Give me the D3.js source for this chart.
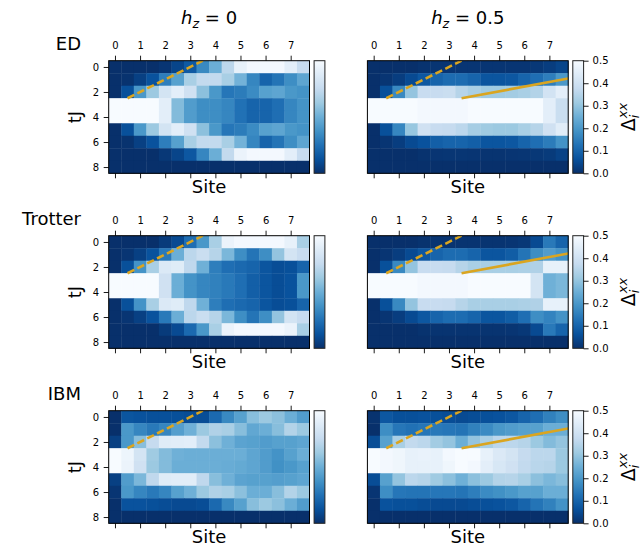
<!DOCTYPE html>
<html>
<head>
<meta charset="utf-8">
<script src="https://cdn.jsdelivr.net/npm/d3@7"></script>
<style>
  html, body { margin: 0; padding: 0; background: #fff; }
  svg { display: block; font-family: "DejaVu Sans", sans-serif; }
</style>
</head>
<body>
<svg id="chart" width="644" height="547"></svg>
<script>
// ---------- data ----------
const siteTicks = [0, 1, 2, 3, 4, 5, 6, 7];
const tjTicks = [0, 2, 4, 6, 8];
const cbarTicks = [0.0, 0.1, 0.2, 0.3, 0.4, 0.5];
const rowLabels = ["ED", "Trotter", "IBM"];
const colTitles = ["0", "0.5"];
const bluesColors = ["#08306b", "#08519c", "#2171b5", "#4292c6", "#6baed6", "#9ecae1", "#c6dbef", "#deebf7", "#f7fbff"];
const dashedLine = [[0.5, 2.5], [3.5, -0.5]];
const solidLine = [[3.5, 2.5], [7.75, 0.93]];
const zeroRow = [0,0,0,0,0,0,0,0,0,0,0,0,0,0,0,0];

const edH0 = [
  [0,0,0,0,0.01,0.04,0.08,0.17,0.25,0.36,0.46,0.49,0.49,0.49,0.45,0.38],
  [0,0.005,0.03,0.065,0.15,0.22,0.33,0.37,0.37,0.33,0.26,0.165,0.1,0.13,0.18,0.23],
  [0,0.06,0.2,0.31,0.41,0.45,0.40,0.29,0.2,0.135,0.145,0.175,0.22,0.23,0.2,0.19],
  [0.5,0.5,0.5,0.5,0.45,0.28,0.21,0.18,0.18,0.165,0.125,0.1,0.1,0.12,0.165,0.19],
  [0.5,0.5,0.5,0.5,0.45,0.28,0.21,0.18,0.18,0.165,0.125,0.1,0.1,0.12,0.165,0.19],
  [0,0.06,0.2,0.31,0.41,0.45,0.40,0.29,0.2,0.135,0.145,0.175,0.22,0.23,0.2,0.19],
  [0,0.005,0.03,0.065,0.15,0.22,0.33,0.37,0.37,0.33,0.26,0.165,0.1,0.13,0.18,0.23],
  [0,0,0,0,0.015,0.04,0.075,0.165,0.25,0.37,0.47,0.49,0.49,0.49,0.45,0.38],
  zeroRow
];
const edH05 = [
  [0,0,0,0,0.005,0.01,0.01,0.01,0.01,0.01,0.01,0.01,0.01,0.015,0.025,0.04],
  [0,0.01,0.025,0.05,0.075,0.1,0.115,0.115,0.1,0.07,0.07,0.075,0.1,0.12,0.15,0.2],
  [0,0.06,0.17,0.30,0.38,0.38,0.385,0.35,0.33,0.315,0.315,0.32,0.33,0.345,0.405,0.45],
  [0.5,0.5,0.5,0.5,0.49,0.49,0.49,0.49,0.5,0.5,0.5,0.5,0.5,0.5,0.45,0.385],
  [0.5,0.5,0.5,0.5,0.49,0.49,0.49,0.49,0.5,0.5,0.5,0.5,0.5,0.5,0.45,0.385],
  [0,0.06,0.165,0.305,0.40,0.38,0.375,0.36,0.325,0.315,0.31,0.31,0.33,0.35,0.40,0.445],
  [0,0.01,0.025,0.05,0.065,0.09,0.1,0.1,0.09,0.07,0.07,0.075,0.1,0.12,0.145,0.19],
  [0,0,0,0,0.005,0.01,0.012,0.012,0.01,0.008,0.008,0.01,0.012,0.015,0.02,0.035],
  zeroRow
];
const trotterH0 = [
  [0,0,0,0,0.02,0.05,0.12,0.2,0.33,0.47,0.49,0.49,0.49,0.49,0.46,0.33],
  [0,0.01,0.03,0.065,0.14,0.25,0.36,0.385,0.35,0.27,0.18,0.13,0.18,0.3,0.41,0.38],
  [0,0.06,0.19,0.33,0.43,0.44,0.365,0.255,0.15,0.12,0.11,0.1,0.07,0.055,0.06,0.1],
  [0.5,0.5,0.5,0.5,0.40,0.25,0.19,0.165,0.155,0.14,0.12,0.09,0.07,0.055,0.065,0.2],
  [0.5,0.5,0.5,0.5,0.40,0.25,0.19,0.165,0.155,0.14,0.12,0.09,0.07,0.055,0.065,0.2],
  [0,0.06,0.19,0.33,0.43,0.44,0.365,0.255,0.15,0.12,0.11,0.1,0.07,0.055,0.06,0.1],
  [0,0.01,0.03,0.065,0.14,0.25,0.36,0.385,0.35,0.27,0.18,0.13,0.18,0.3,0.41,0.38],
  [0,0,0,0,0.02,0.05,0.11,0.2,0.33,0.47,0.49,0.49,0.49,0.49,0.47,0.33],
  zeroRow
];
const trotterH05 = [
  [0,0,0,0,0.005,0.008,0.008,0.008,0.008,0.008,0.008,0.01,0.015,0.05,0.14,0.1],
  [0,0.01,0.025,0.05,0.075,0.1,0.115,0.115,0.1,0.07,0.07,0.085,0.13,0.18,0.21,0.19],
  [0,0.06,0.17,0.30,0.38,0.38,0.375,0.35,0.33,0.33,0.33,0.33,0.335,0.34,0.46,0.46],
  [0.5,0.5,0.5,0.5,0.49,0.49,0.49,0.49,0.5,0.5,0.5,0.5,0.5,0.41,0.255,0.27],
  [0.5,0.5,0.5,0.5,0.49,0.49,0.49,0.49,0.5,0.5,0.5,0.5,0.5,0.41,0.255,0.27],
  [0,0.06,0.17,0.30,0.38,0.38,0.375,0.35,0.33,0.33,0.33,0.33,0.335,0.34,0.46,0.46],
  [0,0.01,0.025,0.05,0.075,0.1,0.115,0.115,0.1,0.07,0.07,0.085,0.12,0.18,0.16,0.19],
  [0,0,0,0,0.005,0.008,0.008,0.008,0.008,0.008,0.008,0.01,0.015,0.05,0.14,0.1],
  zeroRow
];
const ibmH0 = [
  [0,0.07,0.065,0.06,0.06,0.06,0.055,0.055,0.11,0.17,0.22,0.285,0.31,0.29,0.25,0.21],
  [0,0.2,0.165,0.14,0.165,0.215,0.255,0.31,0.34,0.33,0.285,0.235,0.25,0.285,0.345,0.31],
  [0.03,0.2,0.285,0.375,0.44,0.445,0.45,0.37,0.29,0.255,0.225,0.22,0.21,0.22,0.22,0.23],
  [0.5,0.475,0.41,0.315,0.28,0.255,0.25,0.25,0.25,0.25,0.25,0.23,0.21,0.19,0.22,0.25],
  [0.5,0.47,0.40,0.31,0.28,0.25,0.25,0.25,0.25,0.245,0.24,0.23,0.21,0.185,0.2,0.22],
  [0.03,0.21,0.27,0.365,0.44,0.445,0.445,0.365,0.285,0.255,0.225,0.22,0.22,0.215,0.22,0.23],
  [0.01,0.2,0.165,0.14,0.165,0.22,0.255,0.31,0.34,0.33,0.29,0.25,0.25,0.285,0.345,0.31],
  [0,0.065,0.065,0.06,0.055,0.05,0.05,0.055,0.11,0.17,0.22,0.285,0.31,0.29,0.25,0.21],
  zeroRow
];
const ibmH05 = [
  [0.005,0.075,0.06,0.06,0.065,0.06,0.055,0.05,0.055,0.06,0.065,0.075,0.1,0.12,0.155,0.18],
  [0,0.18,0.135,0.125,0.135,0.14,0.135,0.13,0.155,0.175,0.2,0.21,0.22,0.22,0.25,0.25],
  [0.055,0.22,0.33,0.37,0.36,0.32,0.3,0.25,0.3,0.33,0.36,0.36,0.35,0.31,0.28,0.3],
  [0.5,0.49,0.48,0.46,0.465,0.46,0.49,0.5,0.5,0.46,0.43,0.41,0.375,0.36,0.36,0.31],
  [0.5,0.49,0.48,0.46,0.46,0.46,0.48,0.5,0.49,0.45,0.42,0.40,0.37,0.355,0.35,0.31],
  [0.055,0.22,0.3,0.36,0.35,0.315,0.29,0.255,0.29,0.31,0.345,0.35,0.33,0.29,0.27,0.285],
  [0.01,0.18,0.135,0.13,0.13,0.135,0.135,0.13,0.15,0.175,0.185,0.2,0.22,0.22,0.25,0.25],
  [0,0.065,0.06,0.06,0.055,0.05,0.05,0.05,0.055,0.06,0.065,0.075,0.1,0.13,0.155,0.19],
  zeroRow
];

const panelData = [[edH0, edH05], [trotterH0, trotterH05], [ibmH0, ibmH05]];

// ---------- layout ----------
const plotW = 200.8, plotH = 112.6;
const colX = [108.7, 367.4];
const rowY = [60.7, 235.7, 410.7];
const cbGap = 4.6, cbW = 10.8;
const lineColor = "#daa520";

const svg = d3.select("#chart");
svg.append("rect").attr("width", 644).attr("height", 547).attr("fill", "#fff");

const color = d3.scaleLinear()
  .domain(d3.range(9).map(i => i * 0.5 / 8))
  .range(bluesColors)
  .clamp(true);

const defs = svg.append("defs");
const grad = defs.append("linearGradient").attr("id", "cbgrad")
  .attr("x1", 0).attr("y1", 1).attr("x2", 0).attr("y2", 0);
bluesColors.forEach((c, i) => grad.append("stop").attr("offset", i / 8).attr("stop-color", c));

const x = d3.scaleLinear().domain([-0.25, 7.75]).range([0, plotW]);
const y = d3.scaleLinear().domain([-0.5, 8.5]).range([0, plotH]);
const cScale = d3.scaleLinear().domain([0, 0.5]).range([plotH, 0]);
const line = d3.line().x(d => x(d[0])).y(d => y(d[1]));

function styleAxis(g) {
  g.select(".domain").remove();
  g.selectAll(".tick line").attr("stroke", "#000").attr("stroke-width", 0.9);
  g.selectAll(".tick text").attr("font-size", 10).attr("fill", "#000")
    .attr("font-family", "DejaVu Sans, sans-serif");
}

panelData.forEach((rowPanels, r) => {
  svg.append("text")
    .attr("x", 81).attr("y", rowY[r] - 11)
    .attr("text-anchor", "end")
    .attr("font-size", 18)
    .text(rowLabels[r]);

  rowPanels.forEach((data, c) => {
    const g = svg.append("g").attr("transform", `translate(${colX[c]},${rowY[r]})`);
    const clipId = `clip-${r}-${c}`;
    defs.append("clipPath").attr("id", clipId)
      .append("rect").attr("width", plotW).attr("height", plotH);

    const cells = [];
    data.forEach((row, i) => row.forEach((v, j) => cells.push({ i, j, v })));
    g.append("g").selectAll("rect").data(cells).join("rect")
      .attr("x", d => x(-0.25 + 0.5 * d.j))
      .attr("y", d => y(d.i - 0.5))
      .attr("width", d => x(0.25 + 0.5 * d.j) - x(-0.25 + 0.5 * d.j) + 0.4)
      .attr("height", d => y(d.i + 0.5) - y(d.i - 0.5) + 0.4)
      .attr("fill", d => color(d.v));

    const lg = g.append("g").attr("clip-path", `url(#${clipId})`);
    lg.append("path").attr("d", line(dashedLine))
      .attr("fill", "none").attr("stroke", lineColor)
      .attr("stroke-width", 2.6).attr("stroke-dasharray", "7.5,3.5");
    if (c === 1) {
      lg.append("path").attr("d", line(solidLine))
        .attr("fill", "none").attr("stroke", lineColor)
        .attr("stroke-width", 2.6);
    }

    g.append("rect").attr("width", plotW).attr("height", plotH)
      .attr("fill", "none").attr("stroke", "#000").attr("stroke-width", 1);

    g.append("g").call(d3.axisTop(x).tickValues(siteTicks).tickSize(5).tickPadding(7)).call(styleAxis);
    g.append("g").attr("transform", `translate(0,${plotH})`)
      .call(d3.axisBottom(x).tickValues(siteTicks).tickSize(5).tickFormat("")).call(styleAxis);

    g.append("text").attr("x", plotW / 2).attr("y", plotH + 19.5)
      .attr("text-anchor", "middle").attr("font-size", 18).text("Site");

    if (c === 0) {
      g.append("g").call(d3.axisLeft(y).tickValues(tjTicks).tickSize(5).tickPadding(4.5)).call(styleAxis);
      g.append("text").attr("transform", `translate(${81 - colX[0]},${plotH / 2}) rotate(-90)`)
        .attr("text-anchor", "middle").attr("font-size", 18).text("tJ");
    }

    // colorbar
    const cb = g.append("g").attr("transform", `translate(${plotW + cbGap},0)`);
    cb.append("rect").attr("width", cbW).attr("height", plotH).attr("fill", "url(#cbgrad)");
    cb.append("rect").attr("width", cbW).attr("height", plotH)
      .attr("fill", "none").attr("stroke", "#222").attr("stroke-width", 1);
    if (c === 1) {
      cb.append("g").attr("transform", `translate(${cbW},0)`)
        .call(d3.axisRight(cScale).tickValues(cbarTicks).tickFormat(d3.format(".1f")).tickSize(5).tickPadding(4))
        .call(styleAxis);
      const lab = cb.append("text")
        .attr("transform", `translate(${cbW + 51},${plotH / 2}) rotate(-90)`)
        .attr("text-anchor", "middle").attr("font-size", 19);
      lab.append("tspan").text("Δ");
      lab.append("tspan").attr("font-style", "italic").attr("font-size", 13).attr("dy", 4).text("i");
      lab.append("tspan").attr("font-style", "italic").attr("font-size", 13).attr("dx", -3.6).attr("dy", -12).text("xx");
    }

    if (r === 0) {
      const t = svg.append("text")
        .attr("x", colX[c] + plotW / 2).attr("y", 24)
        .attr("text-anchor", "middle").attr("font-size", 18);
      t.append("tspan").attr("font-style", "italic").text("h");
      t.append("tspan").attr("font-style", "italic").attr("font-size", 12.6).attr("dy", 4).text("z");
      t.append("tspan").attr("dy", -4).text(" = " + colTitles[c]);
    }
  });
});
</script>
</body>
</html>
